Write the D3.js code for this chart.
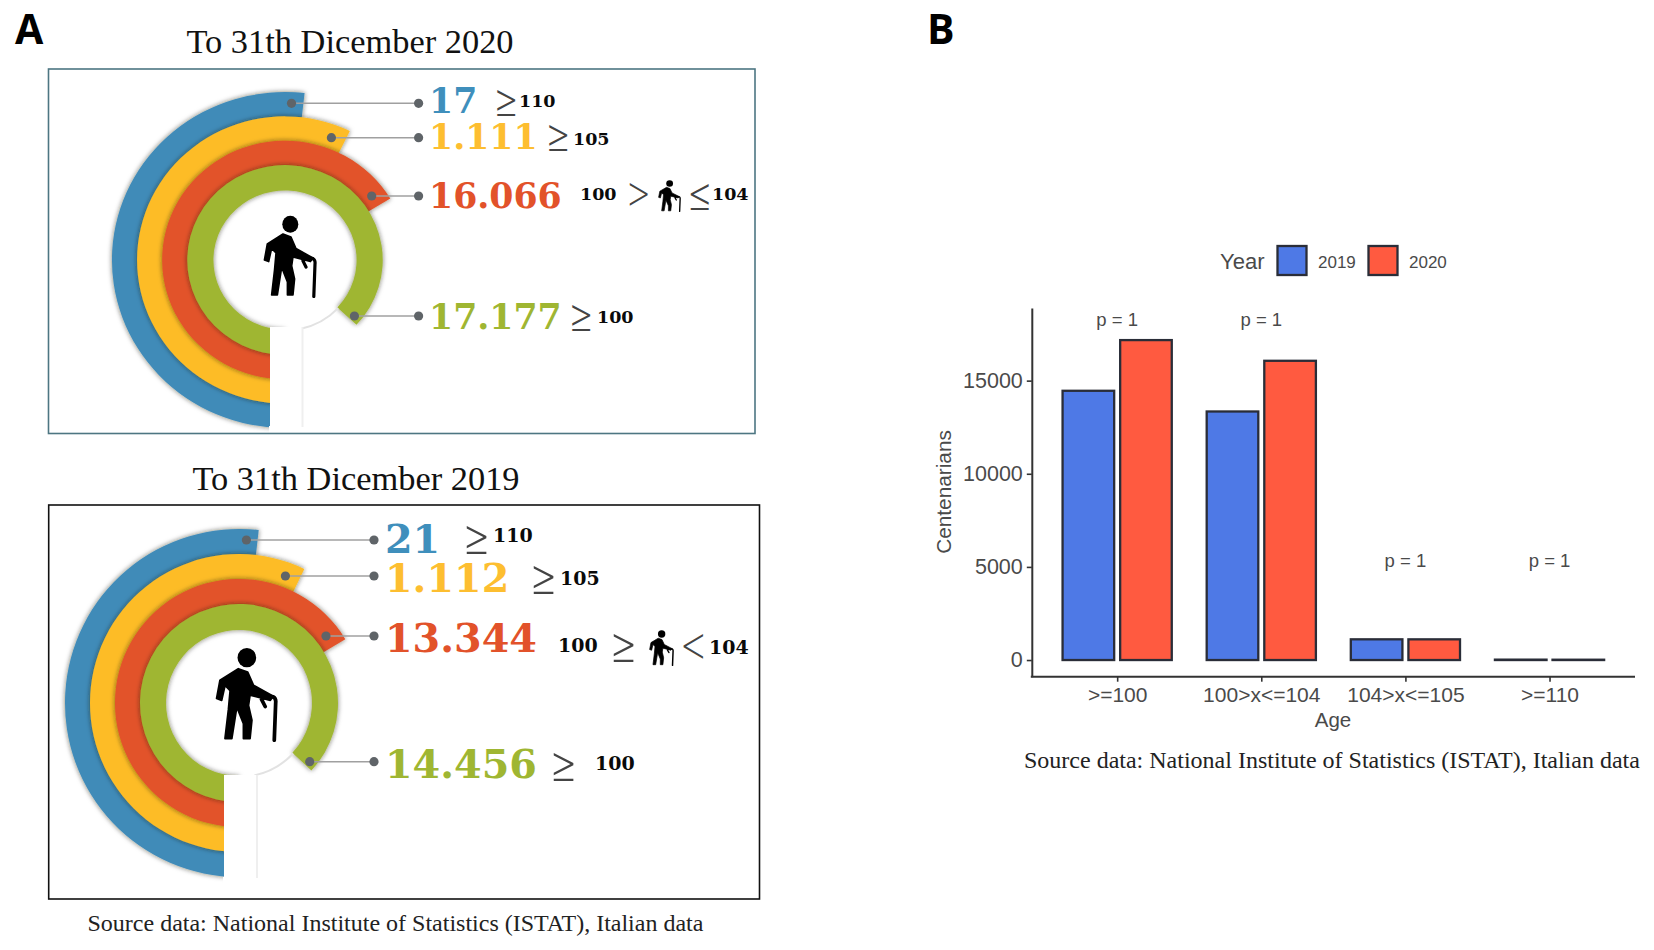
<!DOCTYPE html>
<html>
<head>
<meta charset="utf-8">
<script src="https://cdn.jsdelivr.net/npm/d3@7"></script>
<style>
html,body{margin:0;padding:0;background:#fff;}
svg{display:block;}
</style>
</head>
<body>
<svg id="chart" width="1654" height="950" viewBox="0 0 1654 950"></svg>
<script>
// ---------- data ----------
const ageGroups = [">=100", "100>x<=104", "104>x<=105", ">=110"];
const years = ["2019", "2020"];
const values2019 = [14456, 13344, 1112, 21];
const values2020 = [17177, 16066, 1111, 17];
const pLabels = ["p = 1", "p = 1", "p = 1", "p = 1"];
const pValuePositions = [18270, 18270, 5330, 5330];
const yTicks = [0, 5000, 10000, 15000];
const ringKeys = [">=110", ">=105", "100-104", ">=100"];
const ringValues2020 = [17, 1111, 16066, 17177];
const ringValues2019 = [21, 1112, 13344, 14456];
const titles = ["To 31th Dicember 2020", "To 31th Dicember 2019"];
const sourceNote = "Source data: National Institute of Statistics (ISTAT), Italian data";

// ---------- styles ----------
const ringColors = ["#3f8bb8", "#fdbc27", "#e2522a", "#9fb632"];
const textColors = ["#3f8fbc", "#fdbe30", "#e2522a", "#9fb632"];
const barColors = {"2019": "#4e79e6", "2020": "#ff5a40"};
const ringEndDegrees = [6.5, 26, 59, 133];

const svg = d3.select("#chart");
const defs = svg.append("defs");
const flt = defs.append("filter").attr("id", "ringShadow")
  .attr("x", "-20%").attr("y", "-20%").attr("width", "140%").attr("height", "140%");
flt.append("feDropShadow").attr("dx", 0).attr("dy", 0).attr("stdDeviation", 2.4)
  .attr("flood-color", "#20200a").attr("flood-opacity", 0.6);

// person icon, 54 x 83 box
const icon = defs.append("symbol").attr("id", "person").attr("viewBox", "0 0 54 83")
  .attr("preserveAspectRatio", "none");
icon.append("ellipse").attr("cx", 27.3).attr("cy", 9.3).attr("rx", 8).attr("ry", 8.5).attr("fill", "#000");
icon.append("path")
  .attr("d", "M1.4 45 L4.3 29 L20 19 L28 22 L33 33.5 L50 43 L47.4 46.6 L30 42 L28.7 51 L31.6 64 L30 80 L24.4 80 L24.4 67 L18.7 52.4 L14.4 80 L8.6 80 L11.5 55 L13 38 L8.6 33.5 L5.7 46.6 Z")
  .attr("fill", "#000").attr("stroke", "#000").attr("stroke-width", 1.6).attr("stroke-linejoin", "round");
icon.append("path").attr("d", "M43 52 L40 46 Q43 42 50 43.6 Q52.5 45 52 49 L50.8 81.5").attr("fill", "none")
  .attr("stroke", "#000").attr("stroke-width", 3.2).attr("stroke-linecap", "round");

const itFormat = d3.formatLocale({decimal: ",", thousands: ".", grouping: [3], currency: ["", ""]}).format(",d");

const SERIF = "'DejaVu Serif', serif";
const BODY = "'Liberation Serif', serif";
const SANS = "'Liberation Sans', Arial, sans-serif";
const THIN = "Inter, 'Liberation Sans', sans-serif";

// ---------- panel A ----------
const panelLayouts = [
  {
    values: ringValues2020,
    box: [48.5, 69, 755, 433.5], boxColor: "#4d7682",
    title: [350, 52.5],
    c: [285, 260], stretch: 1.03, radial: [70.5, 168], barX: [270, 302.5], barTop: 327, barBottom: 429,
    person: [263, 215, 54, 83],
    fontSize: 34.7, textX: 429, dotX: 418.6,
    dots: [[291.5, 103.3], [331.4, 137.7], [371.7, 196], [354.4, 316]],
    baselines: [113, 148.5, 207.5, 328.5],
    extras: [
      {t: "≥", x: 492.5, y: 118, s: 50, q: 1}, {t: "110", x: 519, y: 106.7, n: 1},
      {t: "≥", x: 544.5, y: 153, s: 50, q: 1}, {t: "105", x: 573, y: 145, n: 1},
      {t: "100", x: 580, y: 200, n: 1}, {t: ">", x: 624, y: 207, s: 43},
      {t: "≤", x: 686, y: 212, s: 50, q: 1}, {t: "104", x: 712, y: 200, n: 1},
      {t: "≥", x: 567.5, y: 333, s: 50, q: 1}, {t: "100", x: 597, y: 323, n: 1}
    ],
    miniPerson: [658, 180, 23, 32], numSize: 17.5
  },
  {
    values: ringValues2019,
    box: [48.7, 505, 759.5, 899], boxColor: "#111",
    title: [356, 490],
    c: [239, 703], stretch: 1, radial: [74, 174], barX: [224, 257], barTop: 775, barBottom: 880,
    person: [215, 647, 63, 95],
    fontSize: 39.7, textX: 385, dotX: 374,
    dots: [[246.4, 540], [285.4, 576], [326, 636], [309.7, 761.7]],
    baselines: [552.7, 591.7, 651.7, 777.7],
    extras: [
      {t: "≥", x: 461.5, y: 555.5, s: 55, q: 1}, {t: "110", x: 493, y: 542, n: 1},
      {t: "≥", x: 528.5, y: 595.5, s: 55, q: 1}, {t: "105", x: 560, y: 585, n: 1},
      {t: "100", x: 558, y: 652, n: 1}, {t: "≥", x: 608.5, y: 663.5, s: 55, q: 1},
      {t: "<", x: 679, y: 660, s: 47}, {t: "104", x: 709, y: 654, n: 1},
      {t: "≥", x: 548.5, y: 782.5, s: 55, q: 1}, {t: "100", x: 595, y: 770, n: 1}
    ],
    miniPerson: [649, 630, 25, 36], numSize: 19
  }
];

panelLayouts.forEach((p, pi) => {
  const g = svg.append("g");

  g.append("text").text(titles[pi]).attr("x", p.title[0]).attr("y", p.title[1])
    .attr("text-anchor", "middle").attr("font-family", BODY).attr("font-size", 34.4).attr("fill", "#111");

  const radius = d3.scaleBand().domain(ringKeys.slice().reverse()).range(p.radial);
  const endAngle = d3.scaleOrdinal().domain(ringKeys).range(ringEndDegrees.map(d => d * Math.PI / 180));
  const color = d3.scaleOrdinal().domain(ringKeys).range(ringColors);
  const tColor = d3.scaleOrdinal().domain(ringKeys).range(textColors);
  const arc = d3.arc()
    .innerRadius(d => radius(d) - 1)
    .outerRadius(d => radius(d) + radius.bandwidth())
    .startAngle(-Math.PI)
    .endAngle(d => endAngle(d));

  const rings = g.append("g").attr("transform", `translate(${p.c[0]},${p.c[1]}) scale(${p.stretch},1)`);
  rings.selectAll("path").data(ringKeys).join("path")
    .attr("d", arc).attr("fill", d => color(d)).attr("filter", "url(#ringShadow)");

  // white stem below the centre
  g.append("rect").attr("x", p.barX[0]).attr("y", p.barTop)
    .attr("width", p.barX[1] - p.barX[0]).attr("height", p.barBottom - p.barTop)
    .attr("fill", "#fff");
  g.append("rect").attr("x", p.barX[0] - 1).attr("y", p.barBottom - 3)
    .attr("width", p.barX[1] - p.barX[0] + 14).attr("height", p.box[3] - p.barBottom + 3).attr("fill", "#fff");
  g.append("line").attr("x1", p.barX[1]).attr("x2", p.barX[1])
    .attr("y1", p.barTop).attr("y2", p.barBottom - 2)
    .attr("stroke", "#efefef").attr("stroke-width", 2);

  // faint continuation of the inner circle
  rings.append("path")
    .attr("d", d3.arc().innerRadius(p.radial[0] - 1).outerRadius(p.radial[0] + 1)
      .startAngle(133 * Math.PI / 180).endAngle(168 * Math.PI / 180)())
    .attr("fill", "#e2e2e2");

  g.append("rect").attr("x", p.box[0]).attr("y", p.box[1])
    .attr("width", p.box[2] - p.box[0]).attr("height", p.box[3] - p.box[1])
    .attr("fill", "none").attr("stroke", p.boxColor).attr("stroke-width", 1.6);

  g.append("use").attr("href", "#person")
    .attr("x", p.person[0]).attr("y", p.person[1]).attr("width", p.person[2]).attr("height", p.person[3]);

  ringKeys.forEach((k, i) => {
    const [x0, y0] = p.dots[i];
    g.append("line").attr("x1", x0).attr("y1", y0).attr("x2", p.dotX).attr("y2", y0)
      .attr("stroke", "#a0a0a0").attr("stroke-width", 1.6);
    g.append("circle").attr("cx", x0).attr("cy", y0).attr("r", 4.6).attr("fill", "#5f6468");
    g.append("circle").attr("cx", p.dotX).attr("cy", y0).attr("r", 4.6).attr("fill", "#5f6468");
    g.append("text").text(itFormat(p.values[i]))
      .attr("x", p.textX).attr("y", p.baselines[i])
      .attr("font-family", SERIF).attr("font-weight", 700).attr("font-size", p.fontSize)
      .attr("fill", tColor(k));
  });

  p.extras.forEach(e => {
    const t = g.append("text").text(e.t)
      .attr("transform", `translate(${e.x},${e.y}) scale(${e.q ? 0.85 : 1},1)`)
      .attr("font-family", e.n ? SERIF : THIN)
      .attr("font-weight", e.n ? 700 : 200)
      .attr("font-size", e.n ? p.numSize : e.s)
      .attr("fill", e.n ? "#0a0a0a" : "#444");
  });
  g.append("use").attr("href", "#person")
    .attr("x", p.miniPerson[0]).attr("y", p.miniPerson[1])
    .attr("width", p.miniPerson[2]).attr("height", p.miniPerson[3]);
});

svg.append("text").text(sourceNote).attr("x", 87.5).attr("y", 931)
  .attr("font-family", BODY).attr("font-size", 24).attr("fill", "#222");

// panel letters
[["A", 15, 44], ["B", 927, 44]].forEach(([t, x, y]) => {
  svg.append("text").text(t).attr("x", x).attr("y", y)
    .attr("font-family", "'Open Sans', 'Noto Sans', sans-serif").attr("font-weight", 700)
    .attr("font-size", 41).attr("fill", "#000");
});

// ---------- panel B ----------
const axisLeftX = 1031.8, axisBottomY = 676.7, axisTopY = 308, axisRightX = 1635;
const y = d3.scaleLinear().domain([-895, 18900]).range([axisBottomY, axisTopY]);
const x = d3.scalePoint().domain(ageGroups).range([1030.7, 1636]).padding(0.6);
const sub = d3.scaleBand().domain(years).range([-54.6, 54.6]).paddingInner(0.104);

const b = svg.append("g");
const rows = ageGroups.map((a, i) => ({age: a, "2019": values2019[i], "2020": values2020[i], p: pLabels[i], py: pValuePositions[i]}));

const groups = b.selectAll("g.group").data(rows).join("g").attr("class", "group")
  .attr("transform", d => `translate(${x(d.age)},0)`);
groups.selectAll("rect").data(d => years.map(k => ({k, v: d[k]}))).join("rect")
  .attr("x", d => sub(d.k)).attr("width", sub.bandwidth())
  .attr("y", d => y(d.v)).attr("height", d => y(0) - y(d.v))
  .attr("fill", d => barColors[d.k]).attr("stroke", "#2a2d38").attr("stroke-width", 2.3);
groups.append("text").text(d => d.p).attr("x", 0).attr("y", d => y(d.py))
  .attr("text-anchor", "middle").attr("dominant-baseline", "central")
  .attr("font-family", SANS).attr("font-size", 18.5).attr("fill", "#4a4a4a");

function styleAxis(g, size) {
  g.selectAll("path.domain").attr("stroke", "#333").attr("stroke-width", 2);
  g.selectAll(".tick line").attr("stroke", "#333").attr("stroke-width", 1.6);
  g.selectAll(".tick text").attr("font-family", SANS).attr("font-size", size).attr("fill", "#4a4a4a");
}
const gy = b.append("g").attr("transform", `translate(${axisLeftX},0)`)
  .call(d3.axisLeft(y).tickValues(yTicks).tickFormat(d3.format("d")).tickSizeInner(5).tickSizeOuter(0).tickPadding(4));
styleAxis(gy, 21.5);
const gx = b.append("g").attr("transform", `translate(0,${axisBottomY})`)
  .call(d3.axisBottom(x).tickSizeInner(5).tickSizeOuter(0).tickPadding(5));
styleAxis(gx, 21);
gx.select("path.domain").attr("d", `M${axisLeftX - 1},0H${axisRightX}`);

b.append("text").text("Age").attr("x", 1333).attr("y", 727).attr("text-anchor", "middle")
  .attr("font-family", SANS).attr("font-size", 20.5).attr("fill", "#4a4a4a");
b.append("text").text("Centenarians").attr("transform", "translate(951,492) rotate(-90)")
  .attr("text-anchor", "middle").attr("font-family", SANS).attr("font-size", 20.8).attr("fill", "#4a4a4a");

// legend
b.append("text").text("Year").attr("x", 1220).attr("y", 269)
  .attr("font-family", SANS).attr("font-size", 22).attr("fill", "#4a4a4a");
const legendX = d3.scaleOrdinal().domain(years).range([1277.5, 1368.5]);
const lg = b.selectAll("g.key").data(years).join("g").attr("class", "key")
  .attr("transform", d => `translate(${legendX(d)},246)`);
lg.append("rect").attr("width", 29).attr("height", 29).attr("fill", d => barColors[d])
  .attr("stroke", "#2a2d38").attr("stroke-width", 2.3);
lg.append("text").text(d => d).attr("x", 40.5).attr("y", 22)
  .attr("font-family", SANS).attr("font-size", 17).attr("fill", "#4a4a4a");

svg.append("text").text(sourceNote).attr("x", 1024).attr("y", 768)
  .attr("font-family", BODY).attr("font-size", 24).attr("fill", "#222");
</script>
</body>
</html>
